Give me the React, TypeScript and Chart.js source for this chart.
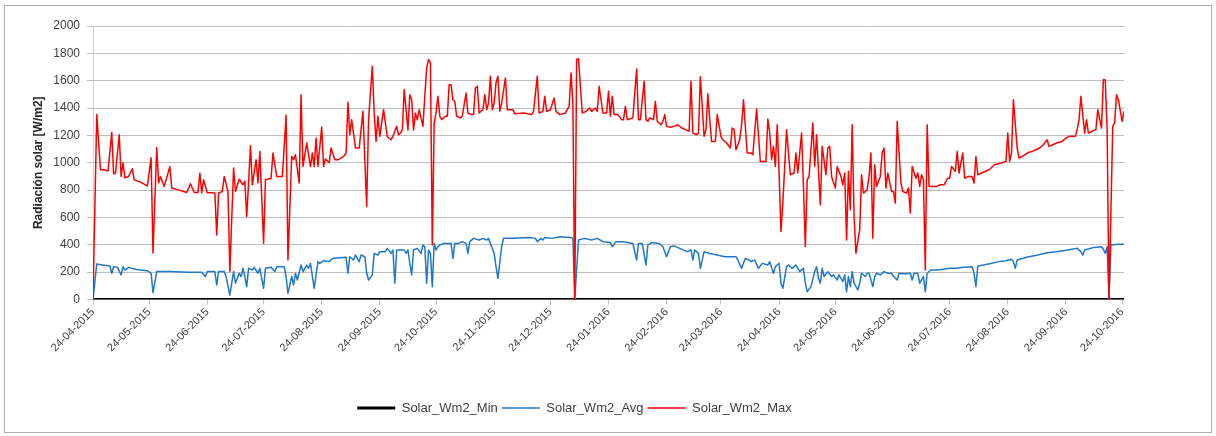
import { useEffect, useRef } from "react";
import { Chart, registerables } from "chart.js";

Chart.register(...registerables);
Chart.defaults.font.family = "'Liberation Sans', Arial, sans-serif";

// Day offsets from 24-04-2015 for the monthly tick labels
const tickDays = [0, 30, 61, 91, 122, 153, 183, 214, 244, 275, 306, 335, 366, 396, 427, 457, 488, 519, 549];
const tickLabels = [
  "24-04-2015", "24-05-2015", "24-06-2015", "24-07-2015", "24-08-2015", "24-09-2015",
  "24-10-2015", "24-11-2015", "24-12-2015", "24-01-2016", "24-02-2016", "24-03-2016",
  "24-04-2016", "24-05-2016", "24-06-2016", "24-07-2016", "24-08-2016", "24-09-2016", "24-10-2016",
];

const seriesNames = ["Solar_Wm2_Min", "Solar_Wm2_Avg", "Solar_Wm2_Max"];

// [day offset, W/m2]
const solarMin: [number, number][] = [[0, 0], [550, 0]];

const solarAvg: [number, number][] = [
  [0, 0], [2, 260], [5, 252], [9, 245], [10, 192], [11, 240], [13, 235], [15, 180], [16, 240], [17, 215],
  [19, 235], [23, 220], [29, 211], [31, 192], [32, 50], [34, 204], [36, 204], [41, 204], [51, 200], [58, 200],
  [60, 168], [61, 204], [65, 204], [66, 106], [67, 204], [70, 204], [71, 168], [73, 33], [75, 204], [76, 119],
  [78, 192], [79, 168], [80, 228], [81, 168], [82, 94], [83, 228], [85, 216], [86, 235], [88, 192], [89, 228],
  [91, 82], [92, 228], [95, 235], [97, 204], [98, 240], [102, 240], [103, 168], [104, 45], [106, 168], [107, 106],
  [108, 192], [109, 143], [111, 252], [112, 204], [114, 252], [115, 228], [116, 264], [118, 82], [120, 277], [121, 264],
  [123, 284], [126, 277], [128, 301], [135, 309], [136, 192], [137, 313], [139, 289], [140, 325], [142, 277], [143, 325],
  [145, 313], [146, 192], [147, 143], [149, 180], [150, 337], [152, 325], [153, 350], [156, 350], [157, 374], [159, 337],
  [160, 362], [161, 119], [162, 362], [164, 362], [166, 362], [167, 337], [168, 362], [169, 264], [170, 180], [171, 362],
  [173, 374], [175, 337], [176, 398], [177, 386], [178, 119], [179, 362], [180, 337], [181, 94], [182, 410], [183, 362],
  [184, 386], [185, 398], [187, 410], [191, 410], [192, 301], [193, 410], [195, 410], [197, 423], [199, 410], [200, 337],
  [201, 423], [203, 447], [206, 435], [208, 447], [210, 435], [211, 447], [214, 337], [215, 240], [216, 155], [218, 386],
  [219, 447], [224, 447], [233, 454], [236, 447], [237, 423], [239, 447], [240, 435], [241, 454], [245, 447], [249, 459],
  [255, 454], [256, 447], [257, 0], [259, 435], [262, 447], [266, 435], [269, 447], [272, 423], [276, 416], [277, 386],
  [279, 423], [283, 423], [288, 410], [290, 289], [291, 410], [293, 410], [295, 252], [296, 398], [298, 416], [302, 410],
  [304, 386], [306, 313], [308, 386], [310, 392], [313, 374], [317, 350], [319, 362], [320, 289], [321, 362], [323, 337],
  [324, 228], [326, 350], [329, 337], [333, 325], [337, 313], [341, 313], [343, 313], [344, 289], [346, 228], [348, 301],
  [350, 289], [351, 277], [353, 289], [355, 228], [357, 264], [360, 252], [361, 277], [363, 192], [364, 240], [366, 264],
  [367, 119], [368, 82], [370, 240], [371, 252], [373, 228], [375, 252], [377, 204], [379, 228], [380, 119], [381, 57],
  [383, 94], [385, 204], [386, 240], [387, 155], [388, 119], [389, 228], [390, 168], [392, 204], [394, 168], [395, 180],
  [397, 143], [398, 180], [400, 131], [401, 180], [402, 57], [403, 168], [404, 94], [405, 204], [406, 119], [408, 70],
  [409, 119], [410, 192], [412, 168], [413, 192], [414, 192], [416, 94], [417, 168], [418, 192], [420, 180], [422, 204],
  [424, 192], [426, 192], [427, 168], [429, 143], [430, 192], [433, 188], [436, 192], [437, 143], [438, 192], [440, 192],
  [441, 119], [443, 168], [444, 57], [445, 192], [447, 216], [450, 216], [453, 220], [457, 228], [461, 228], [464, 235],
  [466, 235], [469, 240], [470, 192], [471, 94], [472, 245], [475, 252], [479, 264], [483, 277], [487, 284], [490, 294],
  [491, 277], [492, 228], [493, 289], [498, 309], [504, 325], [509, 342], [514, 350], [520, 362], [525, 374], [527, 350],
  [528, 325], [529, 362], [534, 381], [538, 386], [539, 367], [540, 337], [541, 386], [542, 0], [543, 398], [547, 404],
  [550, 404],
];

const solarMax: [number, number][] = [
  [0, 0], [2, 1352], [4, 949], [6, 950], [8, 940], [10, 1222], [11, 919], [12, 925], [14, 1205], [15, 900],
  [16, 1000], [17, 890], [19, 900], [21, 956], [22, 875], [25, 860], [29, 831], [31, 1036], [32, 340], [34, 1112],
  [35, 853], [36, 897], [38, 827], [41, 973], [42, 815], [46, 800], [50, 783], [52, 846], [54, 783], [56, 783],
  [57, 924], [58, 780], [59, 875], [61, 780], [64, 780], [65, 778], [66, 472], [67, 778], [69, 790], [70, 900],
  [72, 790], [73, 204], [75, 961], [76, 790], [78, 880], [80, 839], [81, 865], [82, 607], [83, 853], [84, 1124],
  [85, 839], [87, 1022], [88, 853], [89, 1083], [91, 412], [92, 875], [95, 887], [96, 1071], [98, 900], [101, 900],
  [102, 1120], [103, 1347], [104, 289], [106, 1046], [107, 1022], [108, 1058], [110, 851], [111, 1498], [112, 973], [114, 1144],
  [116, 973], [117, 1071], [118, 973], [119, 1181], [120, 973], [122, 1261], [123, 973], [124, 1027], [126, 1000], [127, 1108],
  [129, 1022], [131, 1022], [134, 1051], [135, 1071], [136, 1442], [137, 1205], [138, 1315], [140, 1108], [142, 1108], [144, 1376],
  [146, 680], [147, 1315], [149, 1706], [150, 1364], [151, 1156], [152, 1340], [153, 1193], [155, 1388], [157, 1190], [159, 1168],
  [160, 1193], [162, 1266], [163, 1205], [164, 1217], [165, 1240], [166, 1535], [168, 1240], [169, 1498], [170, 1461], [171, 1240],
  [172, 1364], [173, 1315], [174, 1388], [176, 1266], [177, 1486], [178, 1694], [179, 1755], [180, 1730], [181, 399], [182, 1291],
  [183, 1364], [184, 1486], [185, 1340], [186, 1315], [188, 1340], [189, 1340], [190, 1571], [191, 1571], [192, 1461], [193, 1449],
  [194, 1340], [196, 1328], [197, 1340], [199, 1510], [200, 1364], [202, 1352], [203, 1352], [204, 1547], [205, 1559], [206, 1364],
  [208, 1388], [209, 1498], [210, 1388], [211, 1437], [212, 1632], [213, 1388], [214, 1437], [215, 1584], [216, 1632], [217, 1376],
  [218, 1437], [220, 1620], [221, 1388], [224, 1388], [225, 1359], [230, 1364], [234, 1352], [235, 1376], [237, 1632], [238, 1364],
  [240, 1376], [241, 1486], [242, 1376], [244, 1388], [246, 1473], [247, 1376], [249, 1352], [252, 1364], [254, 1413], [255, 1657],
  [256, 1437], [257, 0], [258, 1755], [259, 1760], [261, 1364], [263, 1376], [265, 1400], [266, 1376], [268, 1400], [269, 1376],
  [270, 1559], [272, 1364], [274, 1364], [275, 1522], [276, 1340], [277, 1486], [278, 1352], [280, 1352], [282, 1315], [283, 1315],
  [284, 1413], [285, 1315], [288, 1328], [290, 1686], [291, 1315], [292, 1315], [294, 1596], [295, 1315], [296, 1303], [297, 1328],
  [299, 1315], [300, 1449], [301, 1303], [303, 1278], [304, 1303], [305, 1352], [306, 1266], [308, 1260], [310, 1266], [312, 1278],
  [314, 1254], [316, 1242], [318, 1230], [319, 1596], [320, 1217], [322, 1205], [323, 1217], [324, 1628], [326, 1193], [327, 1242],
  [328, 1505], [329, 1315], [330, 1156], [332, 1156], [333, 1352], [335, 1193], [336, 1168], [338, 1144], [340, 1108], [341, 1254],
  [342, 1242], [343, 1095], [345, 1168], [346, 1278], [347, 1461], [349, 1071], [351, 1071], [352, 1058], [354, 1393], [356, 1010],
  [358, 1010], [359, 1010], [360, 1320], [361, 1217], [362, 1022], [363, 1120], [364, 973], [365, 1278], [366, 925], [367, 497],
  [368, 705], [370, 1242], [371, 1071], [372, 912], [374, 925], [375, 1071], [376, 925], [378, 1217], [379, 827], [380, 387],
  [381, 875], [382, 900], [384, 1291], [385, 973], [386, 1205], [388, 692], [389, 1120], [391, 912], [392, 1108], [393, 1120],
  [394, 900], [396, 815], [397, 973], [399, 900], [400, 839], [401, 925], [402, 436], [403, 937], [404, 656], [405, 1278],
  [406, 607], [407, 338], [409, 510], [410, 912], [411, 778], [413, 803], [414, 900], [415, 1071], [416, 448], [417, 985],
  [418, 827], [420, 900], [421, 1071], [422, 1108], [423, 815], [424, 925], [426, 790], [427, 790], [428, 705], [429, 1303],
  [431, 851], [432, 790], [434, 778], [435, 815], [436, 632], [437, 973], [439, 887], [440, 925], [441, 827], [442, 912],
  [443, 875], [444, 216], [445, 1278], [446, 827], [450, 827], [452, 839], [454, 839], [456, 887], [457, 887], [458, 973],
  [460, 937], [461, 1083], [462, 925], [463, 1000], [464, 1071], [465, 887], [467, 900], [469, 900], [470, 851], [471, 1046],
  [472, 912], [474, 925], [478, 949], [481, 985], [485, 1000], [487, 1010], [488, 1217], [489, 1010], [490, 1071], [491, 1461],
  [493, 1108], [494, 1034], [497, 1058], [499, 1075], [501, 1083], [503, 1095], [505, 1108], [507, 1132], [509, 1168], [510, 1120],
  [512, 1132], [514, 1144], [517, 1156], [519, 1181], [521, 1193], [524, 1193], [525, 1242], [526, 1315], [527, 1486], [529, 1217],
  [530, 1315], [531, 1217], [533, 1230], [535, 1242], [536, 1388], [538, 1254], [539, 1608], [540, 1605], [541, 1242], [542, 0],
  [544, 1266], [545, 1291], [546, 1498], [547, 1461], [549, 1303], [550, 1376],
];

const yTitle = "Radiación solar [W/m2]";

export default function App() {
  const ref = useRef<HTMLCanvasElement>(null);

  useEffect(() => {
    if (!ref.current) return;
    const chart = new Chart(ref.current, {
      type: "line",
      data: {
        datasets: [
          {
            label: seriesNames[0],
            data: solarMin as any,
            borderColor: "#000000",
            backgroundColor: "#000000",
            borderWidth: 3,
            pointRadius: 0,
            pointStyle: "line",
            tension: 0,
            order: 2,
          },
          {
            label: seriesNames[1],
            data: solarAvg as any,
            borderColor: "#1F77C8",
            backgroundColor: "#1F77C8",
            borderWidth: 1.5,
            borderJoinStyle: "round",
            pointRadius: 0,
            pointStyle: "line",
            tension: 0,
            order: 1,
          },
          {
            label: seriesNames[2],
            data: solarMax as any,
            borderColor: "#FF0000",
            backgroundColor: "#FF0000",
            borderWidth: 1.5,
            borderJoinStyle: "round",
            pointRadius: 0,
            pointStyle: "line",
            tension: 0,
            order: 0,
          },
        ],
      },
      options: {
        responsive: false,
        animation: false,
        devicePixelRatio: 1,
        layout: { padding: { left: 25, right: 92, top: 26, bottom: 11.5 } },
        scales: {
          x: {
            type: "linear",
            min: 0,
            max: 550,
            afterBuildTicks: (scale: any) => {
              scale.ticks = tickDays.map((v) => ({ value: v }));
            },
            afterFit: (scale: any) => {
              scale.height = 98;
            },
            ticks: {
              autoSkip: false,
              minRotation: 45,
              maxRotation: 45,
              padding: 1,
              color: "#404040",
              font: { size: 11 },
              callback: (v: any) => {
                const i = tickDays.indexOf(Number(v));
                return i >= 0 ? tickLabels[i] : "";
              },
            },
            grid: { drawOnChartArea: false, drawTicks: true, tickLength: 5, color: "#bfbfbf" },
            border: { display: true, color: "#bfbfbf" },
          },
          y: {
            min: 0,
            max: 2000,
            afterFit: (scale: any) => {
              scale.width = 68;
            },
            ticks: {
              stepSize: 200,
              padding: 7,
              color: "#404040",
              font: { size: 12 },
              callback: (v: any) => String(v),
            },
            grid: { color: "#bfbfbf", tickLength: 6, drawTicks: true },
            border: { display: true, color: "#d0d0d0" },
            title: {
              display: true,
              text: yTitle,
              color: "#262626",
              font: { size: 12, weight: "bold" },
              padding: { top: 6, bottom: 0 },
            },
          },
        },
        plugins: {
          tooltip: { enabled: false },
          legend: {
            position: "bottom",
            labels: {
              usePointStyle: true,
              pointStyleWidth: 38,
              padding: 4,
              color: "#404040",
              font: { size: 13 },
              sort: (a: any, b: any) => a.datasetIndex - b.datasetIndex,
            },
          },
        },
      } as any,
    });
    return () => chart.destroy();
  }, []);

  return (
    <div style={{ position: "fixed", left: 0, top: 0, width: 1216, height: 436, background: "#ffffff" }}>
      <canvas ref={ref} width={1216} height={436} style={{ position: "absolute", left: 0, top: 0, width: 1216, height: 436 }} />
      <div
        style={{
          position: "absolute",
          left: 4,
          top: 5,
          width: 1208,
          height: 428,
          border: "1px solid #b0b0b0",
          boxSizing: "border-box",
          pointerEvents: "none",
        }}
      />
    </div>
  );
}
